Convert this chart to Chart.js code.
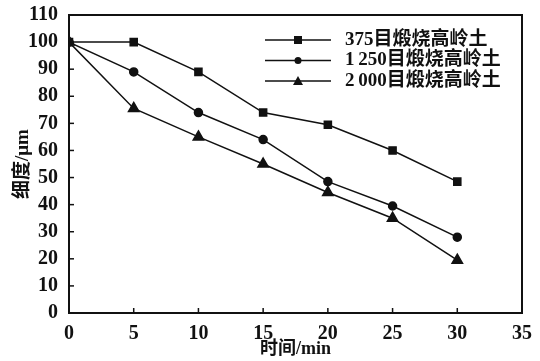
<!DOCTYPE html>
<html>
<head>
<meta charset="utf-8">
<script src="https://cdn.jsdelivr.net/npm/chart.js@4"></script>
<style>
  html, body { margin: 0; padding: 0; background: #fff; }
  #wrap { width: 540px; height: 361px; }
</style>
</head>
<body>
<div id="wrap"><canvas id="ChartCanvas"></canvas></div>
<script>
const times = [0, 5, 10, 15, 20, 25, 30];
const mesh375 = [100, 100, 89, 74, 69.5, 60, 48.5];
const mesh1250 = [100, 89, 74, 64, 48.5, 39.5, 28];
const mesh2000 = [100, 75.5, 65, 55, 44.5, 35, 19.5];
const seriesNames = ['375目煅烧高岭土', '1\u2009250目煅烧高岭土', '2\u2009000目煅烧高岭土'];
const markers = ['rect', 'circle', 'triangle'];
const markerSizes = [5, 4, 6];

const serif = "'Liberation Serif', 'DejaVu Serif', 'Noto Sans CJK SC', serif";

function pts(vals) {
  return times.map((t, i) => ({ x: t, y: vals[i] }));
}

// frame, inward ticks and the legend box
const framePlugin = {
  id: 'frame',
  afterDraw(chart) {
    const { ctx, chartArea: a, scales } = chart;
    ctx.save();
    ctx.strokeStyle = '#111';
    ctx.lineWidth = 2;
    ctx.strokeRect(a.left, a.top, a.right - a.left, a.bottom - a.top);
    ctx.lineWidth = 1.5;
    scales.x.ticks.forEach(t => {
      const x = scales.x.getPixelForValue(t.value);
      ctx.beginPath(); ctx.moveTo(x, a.bottom); ctx.lineTo(x, a.bottom - 5); ctx.stroke();
    });
    scales.y.ticks.forEach(t => {
      const y = scales.y.getPixelForValue(t.value);
      ctx.beginPath(); ctx.moveTo(a.left, y); ctx.lineTo(a.left + 5, y); ctx.stroke();
    });

    // legend
    const lx0 = a.left + 196, lx1 = a.left + 262, tx = a.left + 276;
    ctx.font = 'bold 19px ' + serif;
    ctx.textBaseline = 'middle';
    ctx.fillStyle = '#111';
    chart.data.datasets.forEach((ds, i) => {
      const y = a.top + 25 + i * 20.5;
      ctx.lineWidth = 1.5;
      ctx.beginPath(); ctx.moveTo(lx0, y); ctx.lineTo(lx1, y); ctx.stroke();
      const mx = (lx0 + lx1) / 2;
      ctx.beginPath();
      if (markers[i] === 'rect') {
        ctx.fillRect(mx - 4, y - 4, 8, 8);
      } else if (markers[i] === 'circle') {
        ctx.arc(mx, y, 3.5, 0, Math.PI * 2); ctx.fill();
      } else {
        ctx.moveTo(mx, y - 5); ctx.lineTo(mx + 5, y + 4); ctx.lineTo(mx - 5, y + 4); ctx.closePath(); ctx.fill();
      }
      ctx.fillText(ds.label, tx, y);
    });
    ctx.restore();
  }
};

function lineChart() {
  const myChart = document.getElementById('ChartCanvas');
  const vals = [mesh375, mesh1250, mesh2000];

  new Chart(myChart, {
    type: 'line',
    data: {
      datasets: vals.map((v, i) => ({
        label: seriesNames[i],
        data: pts(v),
        borderColor: '#111',
        backgroundColor: '#111',
        borderWidth: 1.5,
        pointStyle: markers[i],
        pointRadius: markerSizes[i],
        tension: 0
      }))
    },
    options: {
      responsive: true,
      maintainAspectRatio: false,
      animation: false,
      layout: { padding: { left: 0, right: 18, top: 13, bottom: 0 } },
      plugins: { legend: { display: false }, tooltip: { enabled: false } },
      scales: {
        x: {
          type: 'linear',
          min: 0, max: 35,
          grid: { display: false },
          border: { display: false },
          ticks: { stepSize: 5, autoSkip: false, color: '#111', padding: 1, font: { family: serif, size: 20, weight: 'bold' } },
          title: { display: true, text: '时间/min', color: '#111', padding: { top: 0, bottom: 1 }, font: { family: serif, size: 18, weight: 'bold' } },
          afterFit(s) { s.height = 48; }
        },
        y: {
          min: 0, max: 110,
          grid: { display: false },
          border: { display: false },
          ticks: { stepSize: 10, autoSkip: false, color: '#111', padding: 3, font: { family: serif, size: 20, weight: 'bold' } },
          title: { display: true, text: '细度/μm', color: '#111', padding: { top: 12, bottom: 0 }, font: { family: serif, size: 19, weight: 'bold' } },
          afterFit(s) { s.width = 69; }
        }
      }
    },
    plugins: [framePlugin]
  });
}

document.addEventListener("DOMContentLoaded", () => {
  lineChart();
});
</script>
</body>
</html>
